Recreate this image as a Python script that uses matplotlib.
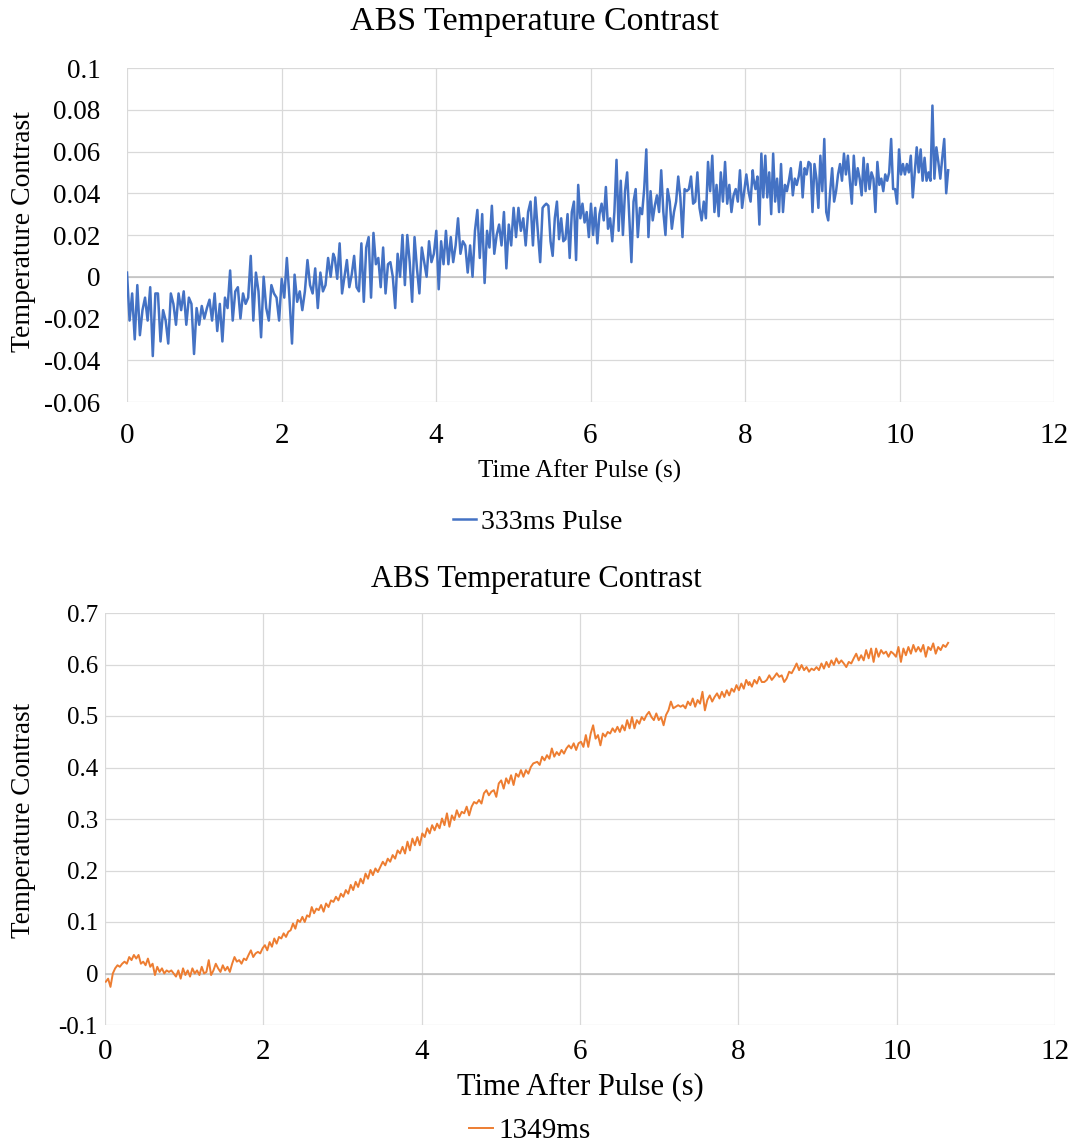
import numpy as np
import matplotlib
matplotlib.use("Agg")
import matplotlib.pyplot as plt
from matplotlib.ticker import FuncFormatter

plt.rcParams['font.family'] = ['Liberation Serif', 'DejaVu Serif']

# ---------------- data ----------------
title_text = "ABS Temperature Contrast"
x_label = "Time After Pulse (s)"
y_label = "Temperature Contrast"
top_series_name = "333ms Pulse"
bottom_series_name = "1349ms"

# 333ms pulse, read in four consecutive time spans (s)
top_spans = [(0.0, 2.67), (2.69, 5.38), (5.40, 8.10), (8.11, 10.63)]
top_seg1 = [0.002, -0.021, -0.008, -0.030, -0.004, -0.028, -0.016, -0.010, -0.021, -0.005,
            -0.038, -0.008, -0.008, -0.031, -0.016, -0.021, -0.032, -0.008, -0.013, -0.023,
            -0.008, -0.016, -0.007, -0.023, -0.010, -0.013, -0.037, -0.015, -0.023, -0.014,
            -0.020, -0.015, -0.011, -0.021, -0.008, -0.026, -0.013, -0.031, -0.010, -0.015,
            0.003, -0.021, -0.007, -0.005, -0.020, -0.008, -0.013, -0.010, 0.010, -0.021,
            0.002, -0.007, -0.029, 0.000, -0.015, -0.021, -0.004, -0.008, -0.010, -0.021,
            -0.001, -0.010, 0.009, -0.010, -0.032, 0.001, -0.012, -0.007, -0.016, -0.007,
            0.008, -0.004, -0.008, 0.004, -0.015, 0.002, -0.007, -0.004, 0.009, 0.000, 0.011]
top_seg2 = [0.009, -0.001, 0.016, -0.008, 0.000, 0.008, -0.005, 0.001, 0.010, -0.005,
            -0.007, 0.016, -0.012, 0.014, 0.019, -0.010, 0.021, 0.006, 0.009, -0.005,
            0.014, -0.008, 0.006, 0.007, 0.000, -0.015, 0.011, 0.000, 0.020, -0.004,
            0.020, 0.007, -0.012, 0.019, 0.004, -0.008, 0.014, 0.007, 0.000, 0.017,
            0.007, 0.011, 0.022, -0.006, 0.017, 0.006, 0.022, 0.006, 0.019, 0.007,
            0.015, 0.028, 0.011, 0.017, 0.015, 0.002, 0.015, 0.000, 0.022, 0.032,
            0.009, 0.030, -0.003, 0.022, 0.014, 0.034, 0.011, 0.020, 0.025, 0.015,
            0.031, 0.004, 0.025, 0.015, 0.033, 0.019, 0.033, 0.022, 0.028, 0.015,
            0.031, 0.036, 0.015, 0.038, 0.022, 0.007, 0.033]
top_seg3 = [0.034, 0.035, 0.034, 0.017, 0.010, 0.028, 0.036, 0.018, 0.028, 0.017,
            0.018, 0.030, 0.009, 0.031, 0.036, 0.008, 0.044, 0.028, 0.035, 0.026,
            0.031, 0.019, 0.035, 0.020, 0.033, 0.016, 0.030, 0.035, 0.027, 0.043,
            0.023, 0.028, 0.017, 0.031, 0.056, 0.022, 0.046, 0.020, 0.041, 0.050,
            0.028, 0.007, 0.036, 0.042, 0.019, 0.033, 0.030, 0.042, 0.061, 0.019,
            0.041, 0.027, 0.034, 0.039, 0.031, 0.051, 0.031, 0.020, 0.042, 0.036,
            0.023, 0.031, 0.036, 0.048, 0.038, 0.019, 0.042, 0.041, 0.042, 0.048,
            0.035, 0.036, 0.050, 0.033, 0.027, 0.036, 0.028, 0.055, 0.041, 0.058,
            0.031, 0.044, 0.029, 0.050, 0.036, 0.055, 0.035, 0.044, 0.031, 0.039,
            0.042, 0.036, 0.051, 0.033, 0.041, 0.049, 0.041, 0.036, 0.051]
top_seg4 = [0.047, 0.042, 0.048, 0.025, 0.059, 0.038, 0.058, 0.038, 0.050, 0.030,
            0.059, 0.036, 0.047, 0.031, 0.054, 0.031, 0.044, 0.041, 0.046, 0.052,
            0.039, 0.047, 0.044, 0.048, 0.055, 0.038, 0.052, 0.049, 0.055, 0.054,
            0.031, 0.054, 0.047, 0.033, 0.058, 0.041, 0.066, 0.031, 0.027, 0.041,
            0.052, 0.036, 0.041, 0.049, 0.054, 0.046, 0.059, 0.049, 0.058, 0.046,
            0.035, 0.058, 0.044, 0.052, 0.047, 0.039, 0.057, 0.041, 0.054, 0.042,
            0.050, 0.047, 0.031, 0.055, 0.044, 0.047, 0.041, 0.049, 0.046, 0.050,
            0.066, 0.042, 0.042, 0.035, 0.061, 0.049, 0.054, 0.049, 0.054, 0.050,
            0.058, 0.038, 0.050, 0.062, 0.050, 0.061, 0.046, 0.057, 0.046, 0.050,
            0.046, 0.082, 0.047, 0.062, 0.055, 0.047, 0.057, 0.066, 0.040, 0.051]

# 1349ms pulse, read in four consecutive time spans (s)
bottom_spans = [(0.01, 2.70), (2.73, 5.41), (5.46, 8.13), (8.14, 10.65)]
bot_seg1 = [-0.016, -0.010, -0.026, 0.000, 0.010, 0.016, 0.013, 0.019, 0.023, 0.019,
            0.032, 0.026, 0.036, 0.029, 0.036, 0.019, 0.023, 0.016, 0.029, 0.013,
            0.019, -0.003, 0.013, 0.003, 0.010, 0.000, 0.006, 0.003, 0.006, 0.000,
            -0.006, 0.006, -0.010, 0.010, -0.003, 0.006, -0.006, 0.010, 0.000, 0.006,
            -0.003, 0.013, 0.000, 0.003, 0.026, -0.003, 0.006, 0.019, 0.010, 0.003,
            0.016, 0.006, 0.013, 0.003, 0.019, 0.032, 0.023, 0.026, 0.019, 0.029,
            0.026, 0.036, 0.045, 0.032, 0.039, 0.042, 0.039, 0.049, 0.055, 0.045,
            0.061, 0.052, 0.068, 0.058, 0.071, 0.068, 0.078, 0.071, 0.081, 0.084,
            0.097, 0.087, 0.104, 0.100, 0.110, 0.100, 0.113, 0.110, 0.129, 0.117,
            0.126, 0.123]
bot_seg2 = [0.133, 0.120, 0.136, 0.129, 0.142, 0.139, 0.149, 0.142, 0.155, 0.149,
            0.162, 0.155, 0.172, 0.162, 0.178, 0.168, 0.184, 0.175, 0.194, 0.184,
            0.201, 0.191, 0.204, 0.197, 0.207, 0.217, 0.210, 0.223, 0.217, 0.230,
            0.223, 0.239, 0.233, 0.246, 0.233, 0.256, 0.239, 0.262, 0.249, 0.265,
            0.249, 0.272, 0.265, 0.282, 0.272, 0.288, 0.278, 0.291, 0.282, 0.301,
            0.288, 0.311, 0.285, 0.307, 0.298, 0.317, 0.304, 0.314, 0.311, 0.324,
            0.307, 0.324, 0.333, 0.330, 0.337, 0.330, 0.350, 0.356, 0.346, 0.353,
            0.356, 0.343, 0.369, 0.375, 0.359, 0.379, 0.369, 0.385, 0.366, 0.388,
            0.382, 0.395, 0.382, 0.395, 0.388, 0.401, 0.408]
bot_seg3 = [0.411, 0.405, 0.421, 0.414, 0.424, 0.417, 0.437, 0.421, 0.430, 0.424,
            0.434, 0.427, 0.437, 0.443, 0.437, 0.447, 0.434, 0.447, 0.450, 0.440,
            0.463, 0.440, 0.466, 0.482, 0.456, 0.463, 0.443, 0.466, 0.460, 0.469,
            0.466, 0.476, 0.469, 0.479, 0.469, 0.482, 0.472, 0.492, 0.476, 0.498,
            0.476, 0.492, 0.485, 0.498, 0.492, 0.502, 0.508, 0.498, 0.492, 0.505,
            0.492, 0.498, 0.482, 0.502, 0.511, 0.528, 0.515, 0.518, 0.521, 0.518,
            0.521, 0.515, 0.528, 0.521, 0.534, 0.518, 0.531, 0.524, 0.547, 0.511,
            0.531, 0.540, 0.528, 0.537, 0.544, 0.534, 0.547, 0.537, 0.550, 0.540,
            0.553, 0.547, 0.560, 0.550, 0.563, 0.553, 0.570, 0.560]
bot_seg4 = [0.566, 0.557, 0.570, 0.563, 0.576, 0.566, 0.566, 0.570, 0.579, 0.570,
            0.576, 0.583, 0.576, 0.579, 0.566, 0.573, 0.586, 0.583, 0.592, 0.602,
            0.589, 0.599, 0.589, 0.595, 0.586, 0.592, 0.589, 0.595, 0.589, 0.602,
            0.592, 0.605, 0.595, 0.608, 0.599, 0.612, 0.602, 0.608, 0.602, 0.595,
            0.605, 0.602, 0.612, 0.621, 0.608, 0.618, 0.608, 0.628, 0.612, 0.631,
            0.605, 0.631, 0.615, 0.628, 0.621, 0.625, 0.615, 0.625, 0.621, 0.615,
            0.634, 0.605, 0.631, 0.618, 0.634, 0.621, 0.638, 0.625, 0.634, 0.625,
            0.638, 0.615, 0.634, 0.628, 0.641, 0.621, 0.634, 0.628, 0.638, 0.634,
            0.642]

x_ticks = [0, 2, 4, 6, 8, 10, 12]
top_y_ticks = [-0.06, -0.04, -0.02, 0, 0.02, 0.04, 0.06, 0.08, 0.1]
bottom_y_ticks = [-0.1, 0, 0.1, 0.2, 0.3, 0.4, 0.5, 0.6, 0.7]


def build(segs, spans):
    t = np.concatenate([np.linspace(a, b, len(s)) for s, (a, b) in zip(segs, spans)])
    y = np.concatenate([np.asarray(s, dtype=float) for s in segs])
    return t, y


t_top, y_top = build([top_seg1, top_seg2, top_seg3, top_seg4], top_spans)
t_bot, y_bot = build([bot_seg1, bot_seg2, bot_seg3, bot_seg4], bottom_spans)

# ---------------- figure ----------------
W, H = 1074, 1145
fig = plt.figure(figsize=(W / 100, H / 100), dpi=100)
fig.patch.set_facecolor('white')


def fx(px):
    return px / W


def fy(py):
    return 1 - py / H


def fmt(v, pos=None):
    s = f"{v:.2f}".rstrip('0').rstrip('.')
    if s in ('-0', ''):
        s = '0'
    return s


BLUE = '#4472C4'
ORANGE = '#ED7D31'
GRID = '#d9d9d9'
ZERO = '#bfbfbf'

ax1 = fig.add_axes([fx(127), fy(402), fx(1054) - fx(127), fy(68) - fy(402)])
ax2 = fig.add_axes([fx(105), fy(1025), fx(1055) - fx(105), fy(613) - fy(1025)])

for ax, yt in ((ax1, top_y_ticks), (ax2, bottom_y_ticks)):
    for sp in ax.spines.values():
        sp.set_visible(False)
    ax.set_xlim(0, 12)
    ax.set_ylim(min(yt), max(yt))
    ax.set_xticks(x_ticks)
    ax.set_yticks(yt)
    ax.xaxis.set_major_formatter(FuncFormatter(fmt))
    ax.yaxis.set_major_formatter(FuncFormatter(fmt))
    ax.grid(True, color=GRID, lw=0.9)
    ax.set_axisbelow(True)
    ax.axhline(0, color=ZERO, lw=1.1, zorder=1)
    ax.tick_params(length=0)

ax1.tick_params(axis='y', labelsize=19.5, pad=19)
ax1.tick_params(axis='x', labelsize=21, pad=15)
ax2.tick_params(axis='y', labelsize=18, pad=5)
ax2.tick_params(axis='x', labelsize=21, pad=10)

l1, = ax1.plot(t_top, y_top, color=BLUE, lw=1.8, zorder=3, label=top_series_name)
l2, = ax2.plot(t_bot, y_bot, color=ORANGE, lw=1.4, zorder=3, label=bottom_series_name)

# titles and axis labels
fig.text(fx(534), fy(22), title_text, ha='center', va='center', fontsize=24.5)
fig.text(fx(536), fy(579), title_text, ha='center', va='center', fontsize=22)
fig.text(fx(580), fy(471), x_label, ha='center', va='center', fontsize=18)
fig.text(fx(580), fy(1087), x_label, ha='center', va='center', fontsize=22)
fig.text(fx(23), fy(232), y_label, ha='center', va='center', rotation=90, fontsize=20)
fig.text(fx(23), fy(820), y_label, ha='center', va='center', rotation=90, fontsize=19.5)

fig.legend(handles=[l1], loc='center', bbox_to_anchor=(fx(538), fy(522)), frameon=False,
           fontsize=20, handlelength=0.8, handletextpad=0.2, borderpad=0)
fig.legend(handles=[l2], loc='center', bbox_to_anchor=(fx(530), fy(1131)), frameon=False,
           fontsize=21, handlelength=0.8, handletextpad=0.2, borderpad=0)

fig.savefig('out.png', dpi=100, facecolor='white')
